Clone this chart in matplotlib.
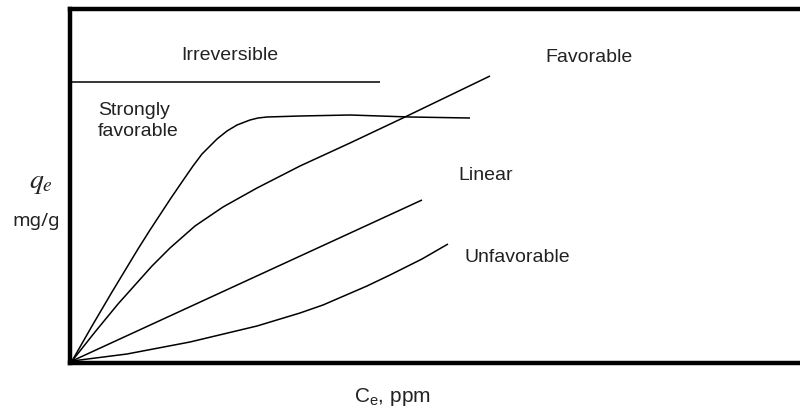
import matplotlib
matplotlib.use("Agg")
import matplotlib.pyplot as plt

plt.rcParams['font.family'] = ['Liberation Sans', 'DejaVu Sans']
plt.rcParams['mathtext.fontset'] = 'custom'
plt.rcParams['mathtext.rm'] = 'Liberation Sans'
plt.rcParams['mathtext.default'] = 'regular'

# ---- isotherm shapes (arbitrary units) ----
irrev_x = [-2, 308]
irrev_y = [279, 279]

strong_x = [0, 20, 40, 66, 78, 99, 112, 121, 130, 145, 155, 165, 178, 186, 195, 228, 278, 338, 398]
strong_y = [0, 35, 69, 112, 131, 163, 182, 195, 207, 222, 230, 236, 241, 243, 244, 245, 246, 244, 243]

fav_x = [0, 23, 46, 80, 98, 123, 151, 185, 228, 278, 333, 418]
fav_y = [0, 29, 57, 95, 113, 135, 154, 173, 195, 218, 244, 285]

lin_x = [0, 350]
lin_y = [0, 161]

unfav_x = [0, 55, 118, 185, 228, 251, 295, 318, 350, 376]
unfav_y = [0, 7, 19, 35, 48, 56, 75, 86, 102, 117]

labels = ['Irreversible', 'Strongly\nfavorable', 'Favorable', 'Linear', 'Unfavorable']

fig = plt.figure(figsize=(8, 4.1), dpi=100)
ax = fig.add_axes([0.0875, 0.1122, 0.9125, 0.8634])
ax.set_xlim(-2, 728)
ax.set_ylim(-2, 352)

for xs, ys in [(irrev_x, irrev_y), (strong_x, strong_y), (fav_x, fav_y),
               (lin_x, lin_y), (unfav_x, unfav_y)]:
    ax.plot(xs, ys, color='black', lw=1.1, solid_capstyle='butt', solid_joinstyle='round')

# curve labels
txt = dict(fontsize=14, va='center', color='#222222')
ax.text(158, 307, labels[0], ha='center', **txt)
ax.text(26, 241, labels[1], ha='left', ma='left', linespacing=1.25, **txt)
ax.text(517, 305, labels[2], ha='center', **txt)
ax.text(414, 187, labels[3], ha='center', **txt)
ax.text(445, 104, labels[4], ha='center', **txt)

ax.set_xticks([])
ax.set_yticks([])
ax.spines['right'].set_visible(False)
for s in ['left', 'top', 'bottom']:
    ax.spines[s].set_linewidth(3.2)
    ax.spines[s].set_color('black')

fig.text(392 / 800, 1 - 397 / 410, 'C$_\\mathrm{e}$, ppm', fontsize=15, ha='center', va='center',
         color='#222222')
fig.text(41 / 800, 1 - 183 / 410, r'$\mathit{q_e}$', fontsize=20, ha='center', va='center',
         math_fontfamily='stix', color='#222222')
fig.text(36 / 800, 1 - 221 / 410, 'mg/g', fontsize=13.5, ha='center', va='center',
         family=['Noto Sans', 'DejaVu Sans'], color='#222222')

fig.savefig('out.png', dpi=100)
